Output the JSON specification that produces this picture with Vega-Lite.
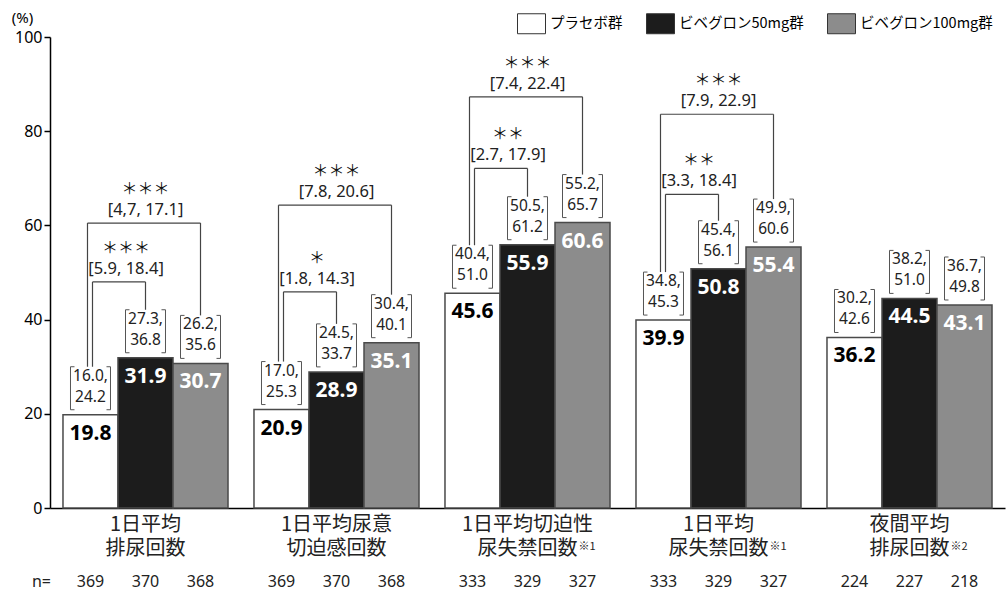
{
  "$schema": "https://vega.github.io/schema/vega-lite/v6.json",
  "width": 955,
  "height": 471,
  "autosize": {"type": "none"},
  "padding": {"left": 50, "top": 37, "right": 3, "bottom": 89},
  "background": "white",
  "config": {
    "view": {"stroke": null},
    "font": "Noto Sans",
    "axisY": {"grid": false, "labelFontSize": 16, "labelColor": "black", "tickColor": "black", "tickSize": 6, "tickWidth": 1.5,
              "domainColor": "black", "domainWidth": 1.5, "labelPadding": 2, "titleAngle": 0, "titleX": -28, "titleY": -20,
              "titleAlign": "center", "titleBaseline": "middle", "titleFontWeight": "normal", "titleFontSize": 15, "titleColor": "black"},
    "axisX": {"labels": false, "ticks": false, "domainColor": "black", "domainWidth": 1.5, "grid": false}
  },
  "datasets": {
    "bars": [
      {"group": "G1", "treatment": "プラセボ群", "value": 19.8, "ci": "16.0,\n24.2", "n": "369"},
      {"group": "G1", "treatment": "ビベグロン50mg群", "value": 31.9, "ci": "27.3,\n36.8", "n": "370"},
      {"group": "G1", "treatment": "ビベグロン100mg群", "value": 30.7, "ci": "26.2,\n35.6", "n": "368"},
      {"group": "G2", "treatment": "プラセボ群", "value": 20.9, "ci": "17.0,\n25.3", "n": "369"},
      {"group": "G2", "treatment": "ビベグロン50mg群", "value": 28.9, "ci": "24.5,\n33.7", "n": "370"},
      {"group": "G2", "treatment": "ビベグロン100mg群", "value": 35.1, "ci": "30.4,\n40.1", "n": "368"},
      {"group": "G3", "treatment": "プラセボ群", "value": 45.6, "ci": "40.4,\n51.0", "n": "333"},
      {"group": "G3", "treatment": "ビベグロン50mg群", "value": 55.9, "ci": "50.5,\n61.2", "n": "329"},
      {"group": "G3", "treatment": "ビベグロン100mg群", "value": 60.6, "ci": "55.2,\n65.7", "n": "327"},
      {"group": "G4", "treatment": "プラセボ群", "value": 39.9, "ci": "34.8,\n45.3", "n": "333"},
      {"group": "G4", "treatment": "ビベグロン50mg群", "value": 50.8, "ci": "45.4,\n56.1", "n": "329"},
      {"group": "G4", "treatment": "ビベグロン100mg群", "value": 55.4, "ci": "49.9,\n60.6", "n": "327"},
      {"group": "G5", "treatment": "プラセボ群", "value": 36.2, "ci": "30.2,\n42.6", "n": "224"},
      {"group": "G5", "treatment": "ビベグロン50mg群", "value": 44.5, "ci": "38.2,\n51.0", "n": "227"},
      {"group": "G5", "treatment": "ビベグロン100mg群", "value": 43.1, "ci": "36.7,\n49.8", "n": "218"}
    ],
    "cats": [
      {"group": "G1", "label": "1日平均\n排尿回数", "note": ""},
      {"group": "G2", "label": "1日平均尿意\n切迫感回数", "note": ""},
      {"group": "G3", "label": "1日平均切迫性\n尿失禁回数", "note": "※1"},
      {"group": "G4", "label": "1日平均\n尿失禁回数", "note": "※1"},
      {"group": "G5", "label": "夜間平均\n排尿回数", "note": "※2"}
    ],
    "brackets": [
      {"group": "G1", "kind": "outer", "stars": "＊＊＊", "ci": "[4,7, 17.1]", "h": 60.5, "pl": 19.8, "tg": 30.7},
      {"group": "G1", "kind": "inner", "stars": "＊＊＊", "ci": "[5.9, 18.4]", "h": 48.0, "pl": 19.8, "tg": 31.9},
      {"group": "G2", "kind": "outer", "stars": "＊＊＊", "ci": "[7.8, 20.6]", "h": 64.3, "pl": 20.9, "tg": 35.1},
      {"group": "G2", "kind": "inner", "stars": "＊", "ci": "[1.8, 14.3]", "h": 45.9, "pl": 20.9, "tg": 28.9},
      {"group": "G3", "kind": "outer", "stars": "＊＊＊", "ci": "[7.4, 22.4]", "h": 87.3, "pl": 45.6, "tg": 60.6},
      {"group": "G3", "kind": "inner", "stars": "＊＊", "ci": "[2.7, 17.9]", "h": 72.1, "pl": 45.6, "tg": 55.9},
      {"group": "G4", "kind": "outer", "stars": "＊＊＊", "ci": "[7.9, 22.9]", "h": 83.6, "pl": 39.9, "tg": 55.4},
      {"group": "G4", "kind": "inner", "stars": "＊＊", "ci": "[3.3, 18.4]", "h": 66.6, "pl": 39.9, "tg": 50.8}
    ]
  },
  "layer": [
    {
      "data": {"name": "bars"},
      "mark": {"type": "bar", "stroke": "#4a4a4a", "strokeWidth": 1.5},
      "encoding": {
        "x": {"field": "group", "type": "nominal", "title": null, "scale": {"paddingInner": 0.136, "paddingOuter": 0.068}},
        "xOffset": {"field": "treatment", "type": "nominal", "scale": {"domain": ["プラセボ群", "ビベグロン50mg群", "ビベグロン100mg群"]}},
        "y": {"field": "value", "type": "quantitative", "title": "(%)", "scale": {"domain": [0, 100]}, "axis": {"values": [0, 20, 40, 60, 80, 100]}},
        "color": {"field": "treatment", "type": "nominal",
                  "scale": {"domain": ["プラセボ群", "ビベグロン50mg群", "ビベグロン100mg群"], "range": ["#ffffff", "#1c1c1c", "#8c8c8c"]},
                  "legend": {"orient": "none", "legendX": 467, "legendY": -28, "direction": "horizontal", "title": null,
                             "symbolType": "M-1,-0.714H1V0.714H-1Z", "symbolSize": 784, "symbolStrokeColor": "#333", "symbolStrokeWidth": 1,
                             "symbolOpacity": 1, "labelFontSize": 14.5, "labelFont": "Noto Sans CJK JP", "labelColor": "black",
                             "columnPadding": 21, "labelOffset": 4, "padding": 0}}
      }
    },
    {
      "data": {"name": "bars"},
      "mark": {"type": "text", "baseline": "top", "dy": 8, "fontSize": 21, "fontWeight": "bold", "font": "Noto Sans"},
      "encoding": {
        "x": {"field": "group", "type": "nominal", "title": null},
        "xOffset": {"field": "treatment", "type": "nominal", "scale": {"domain": ["プラセボ群", "ビベグロン50mg群", "ビベグロン100mg群"]}},
        "y": {"field": "value", "type": "quantitative", "title": "(%)"},
        "text": {"field": "value", "type": "quantitative", "format": ".1f"},
        "color": {"condition": {"test": "datum.treatment === 'プラセボ群'", "value": "black"}, "value": "white"}
      }
    },
    {
      "data": {"name": "bars"},
      "mark": {"type": "point", "shape": "M-0.744,-1H-0.93V1H-0.744M0.744,-1H0.93V1H0.744", "size": 1849, "filled": false,
               "stroke": "#555", "strokeWidth": 1, "opacity": 1, "yOffset": -26.5},
      "encoding": {
        "x": {"field": "group", "type": "nominal", "title": null},
        "xOffset": {"field": "treatment", "type": "nominal", "scale": {"domain": ["プラセボ群", "ビベグロン50mg群", "ビベグロン100mg群"]}},
        "y": {"field": "value", "type": "quantitative", "title": "(%)"}
      }
    },
    {
      "data": {"name": "bars"},
      "mark": {"type": "text", "baseline": "top", "dy": -46, "fontSize": 15.5, "lineHeight": 21, "lineBreak": "\n",
               "font": "Noto Sans", "color": "#222"},
      "encoding": {
        "x": {"field": "group", "type": "nominal", "title": null},
        "xOffset": {"field": "treatment", "type": "nominal", "scale": {"domain": ["プラセボ群", "ビベグロン50mg群", "ビベグロン100mg群"]}},
        "y": {"field": "value", "type": "quantitative", "title": "(%)"},
        "text": {"field": "ci"}
      }
    },
    {
      "data": {"name": "bars"},
      "mark": {"type": "text", "baseline": "middle", "dy": 74, "fontSize": 16, "font": "Noto Sans", "color": "#222"},
      "encoding": {
        "x": {"field": "group", "type": "nominal", "title": null},
        "xOffset": {"field": "treatment", "type": "nominal", "scale": {"domain": ["プラセボ群", "ビベグロン50mg群", "ビベグロン100mg群"]}},
        "y": {"datum": 0, "type": "quantitative", "title": "(%)"},
        "text": {"field": "n"}
      }
    },
    {
      "data": {"name": "cats"},
      "mark": {"type": "text", "baseline": "top", "dy": 7, "fontSize": 20, "lineHeight": 24, "lineBreak": "\n", "font": "Noto Sans CJK JP", "color": "#222"},
      "encoding": {
        "x": {"field": "group", "type": "nominal", "title": null},
        "y": {"datum": 0, "type": "quantitative", "title": "(%)"},
        "text": {"field": "label"}
      }
    },
    {
      "data": {"name": "cats"},
      "transform": [{"filter": "datum.group === 'G3' || datum.group === 'G4'"}],
      "mark": {"type": "text", "baseline": "top", "align": "left", "dx": 51, "dy": 33, "fontSize": 11, "font": "Noto Sans CJK JP", "color": "#222"},
      "encoding": {
        "x": {"field": "group", "type": "nominal", "title": null},
        "y": {"datum": 0, "type": "quantitative", "title": "(%)"},
        "text": {"field": "note"}
      }
    },
    {
      "data": {"name": "cats"},
      "transform": [{"filter": "datum.group === 'G5'"}],
      "mark": {"type": "text", "baseline": "top", "align": "left", "dx": 41, "dy": 33, "fontSize": 11, "font": "Noto Sans CJK JP", "color": "#222"},
      "encoding": {
        "x": {"field": "group", "type": "nominal", "title": null},
        "y": {"datum": 0, "type": "quantitative", "title": "(%)"},
        "text": {"field": "note"}
      }
    },
    {
      "data": {"name": "cats"},
      "transform": [{"filter": "datum.group === 'G1'"}],
      "mark": {"type": "text", "baseline": "middle", "align": "right", "dx": -12, "dy": 74, "fontSize": 16, "font": "Noto Sans", "color": "#222"},
      "encoding": {
        "x": {"field": "group", "type": "nominal", "bandPosition": 0, "title": null},
        "y": {"datum": 0, "type": "quantitative", "title": "(%)"},
        "text": {"value": "n="}
      }
    },
    {
      "data": {"name": "brackets"},
      "transform": [{"filter": "datum.kind === 'outer'"}],
      "mark": {"type": "rule", "yOffset": -48, "color": "#444", "strokeWidth": 1.2},
      "encoding": {
        "x": {"field": "group", "type": "nominal", "bandPosition": 0.1485, "title": null},
        "y": {"field": "pl", "type": "quantitative", "title": "(%)"},
        "y2": {"field": "h"}
      }
    },
    {
      "data": {"name": "brackets"},
      "transform": [{"filter": "datum.kind === 'outer'"}],
      "mark": {"type": "rule", "yOffset": -48, "color": "#444", "strokeWidth": 1.2},
      "encoding": {
        "x": {"field": "group", "type": "nominal", "bandPosition": 0.8333, "title": null},
        "y": {"field": "tg", "type": "quantitative", "title": "(%)"},
        "y2": {"field": "h"}
      }
    },
    {
      "data": {"name": "brackets"},
      "transform": [{"filter": "datum.kind === 'outer'"}],
      "mark": {"type": "rule", "color": "#444", "strokeWidth": 1.2},
      "encoding": {
        "x": {"field": "group", "type": "nominal", "bandPosition": 0.1485, "title": null},
        "x2": {"field": "group", "bandPosition": 0.8333},
        "y": {"field": "h", "type": "quantitative", "title": "(%)"}
      }
    },
    {
      "data": {"name": "brackets"},
      "transform": [{"filter": "datum.kind === 'inner'"}],
      "mark": {"type": "rule", "yOffset": -48, "color": "#444", "strokeWidth": 1.2},
      "encoding": {
        "x": {"field": "group", "type": "nominal", "bandPosition": 0.1788, "title": null},
        "y": {"field": "pl", "type": "quantitative", "title": "(%)"},
        "y2": {"field": "h"}
      }
    },
    {
      "data": {"name": "brackets"},
      "transform": [{"filter": "datum.kind === 'inner'"}],
      "mark": {"type": "rule", "yOffset": -48, "color": "#444", "strokeWidth": 1.2},
      "encoding": {
        "x": {"field": "group", "type": "nominal", "bandPosition": 0.5, "title": null},
        "y": {"field": "tg", "type": "quantitative", "title": "(%)"},
        "y2": {"field": "h"}
      }
    },
    {
      "data": {"name": "brackets"},
      "transform": [{"filter": "datum.kind === 'inner'"}],
      "mark": {"type": "rule", "color": "#444", "strokeWidth": 1.2},
      "encoding": {
        "x": {"field": "group", "type": "nominal", "bandPosition": 0.1788, "title": null},
        "x2": {"field": "group", "bandPosition": 0.5},
        "y": {"field": "h", "type": "quantitative", "title": "(%)"}
      }
    },
    {
      "data": {"name": "brackets"},
      "transform": [{"filter": "datum.kind === 'outer'"}],
      "mark": {"type": "text", "baseline": "alphabetic", "dy": -8, "fontSize": 16.5, "font": "Noto Sans", "color": "#222"},
      "encoding": {
        "x": {"field": "group", "type": "nominal", "bandPosition": 0.5, "title": null},
        "y": {"field": "h", "type": "quantitative", "title": "(%)"},
        "text": {"field": "ci"}
      }
    },
    {
      "data": {"name": "brackets"},
      "transform": [{"filter": "datum.kind === 'outer'"}],
      "mark": {"type": "text", "baseline": "middle", "dy": -34, "fontSize": 16, "font": "Noto Sans CJK JP", "color": "#111"},
      "encoding": {
        "x": {"field": "group", "type": "nominal", "bandPosition": 0.5, "title": null},
        "y": {"field": "h", "type": "quantitative", "title": "(%)"},
        "text": {"field": "stars"}
      }
    },
    {
      "data": {"name": "brackets"},
      "transform": [{"filter": "datum.kind === 'inner'"}],
      "mark": {"type": "text", "baseline": "alphabetic", "dy": -8, "fontSize": 16.5, "font": "Noto Sans", "color": "#222"},
      "encoding": {
        "x": {"field": "group", "type": "nominal", "bandPosition": 0.382, "title": null},
        "y": {"field": "h", "type": "quantitative", "title": "(%)"},
        "text": {"field": "ci"}
      }
    },
    {
      "data": {"name": "brackets"},
      "transform": [{"filter": "datum.kind === 'inner'"}],
      "mark": {"type": "text", "baseline": "middle", "dy": -34, "fontSize": 16, "font": "Noto Sans CJK JP", "color": "#111"},
      "encoding": {
        "x": {"field": "group", "type": "nominal", "bandPosition": 0.382, "title": null},
        "y": {"field": "h", "type": "quantitative", "title": "(%)"},
        "text": {"field": "stars"}
      }
    }
  ]
}
